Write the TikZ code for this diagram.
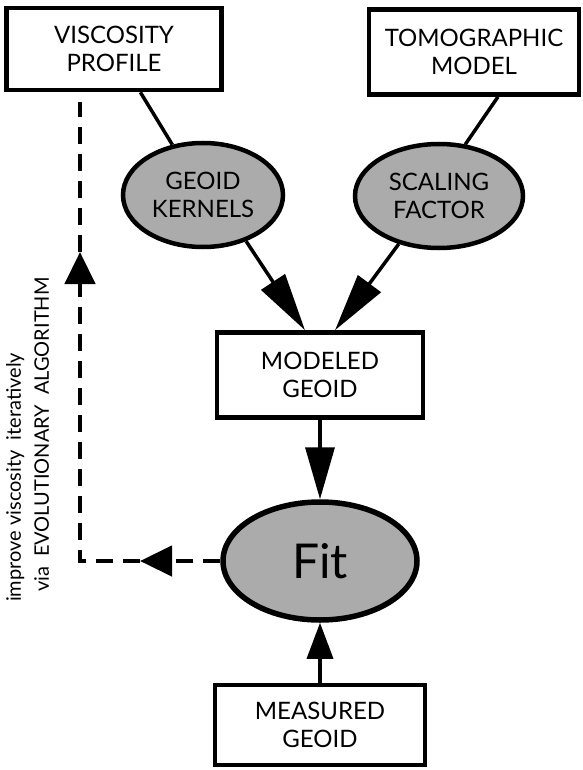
\documentclass[tikz,border=0pt]{standalone}
\usepackage{fontspec}
\setmainfont{Lato}
\usetikzlibrary{arrows.meta,shapes.geometric}

\begin{document}
\begin{tikzpicture}[x=1pt,y=-1pt,
    box/.style={draw,line width=4.5pt,rectangle,align=center,inner sep=0pt,
      font=\fontsize{24}{28}\selectfont},
    oval/.style={draw,line width=4.5pt,ellipse,fill=black!33,align=center,inner sep=0pt,
      font=\fontsize{24}{28}\selectfont},
    conn/.style={line width=3.5pt},
    fb/.style={line width=4.5pt,dash pattern=on 17pt off 10pt}]
    \useasboundingbox (0,0) rectangle (582,770);
    \node[box,minimum width=215pt,minimum height=82pt] (visc) at (114,49) {VISCOSITY\\PROFILE};
    \node[box,minimum width=210pt,minimum height=85pt] (tomo) at (474,52) {TOMOGRAPHIC\\MODEL};
    \node[oval,minimum width=160pt,minimum height=104pt] (kern) at (203,195) {GEOID\\KERNELS};
    \node[oval,minimum width=168pt,minimum height=104pt] (scal) at (439,196) {SCALING\\FACTOR};
    \node[box,minimum width=206pt,minimum height=85pt] (model) at (320,375) {MODELED\\GEOID};
    \node[oval,line width=5.5pt,minimum width=194pt,minimum height=118pt,
      font=\fontsize{48}{50}\selectfont] (fit) at (320,561) {Fit};
    \node[box,minimum width=210pt,minimum height=80pt] (meas) at (320,725) {MEASURED\\GEOID};
    \coordinate (top) at (80,102);
    \coordinate (corner) at (80,561);
    \coordinate (up) at (80,252);
    \coordinate (left) at (140,561);

    \draw[conn] (visc) -- (kern);
    \draw[conn] ([xshift=24pt]tomo.south) -- (scal.63);
    \draw[conn,-{Triangle[length=58pt,width=28pt]}] (kern.313) -- ([xshift=-15pt]model.north);
    \draw[conn,-{Triangle[length=58pt,width=28pt]}] (scal.230) -- ([xshift=15pt]model.north);
    \draw[conn,-{Triangle[length=52pt,width=29pt]}] (model) -- (fit);
    \draw[conn,-{Triangle[length=36pt,width=26pt]}] (meas) -- (fit);

    \draw[fb,-{Triangle[length=32pt,width=30pt]}] (fit.west) -- (left);
    \draw[fb,-{Triangle[length=32pt,width=30pt]}] (left) -- (corner) -- (up);
    \draw[fb] (up) -- (top);

    \node[rotate=90,anchor=north west,align=left,inner sep=0pt,
      font=\fontsize{20}{28}\selectfont] (note) at (6,602)
      {improve viscosity\enspace iteratively\\ \enspace via\enspace EVOLUTIONARY\enspace ALGORITHM};
\end{tikzpicture}
\end{document}
